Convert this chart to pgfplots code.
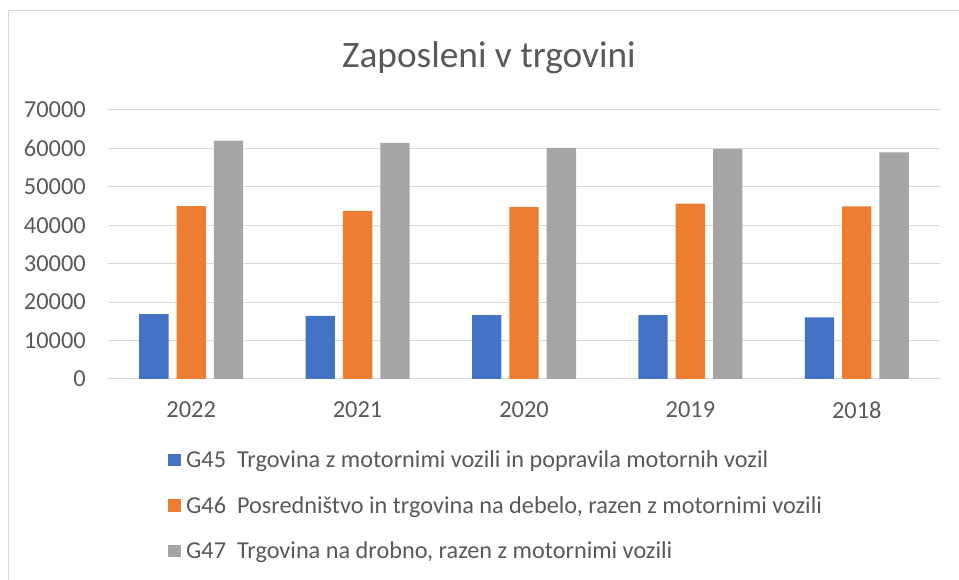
\documentclass[border=0pt]{standalone}
\usepackage{pgfplots}
\pgfplotsset{compat=1.18}
\usepackage{fontspec}
\setmainfont{Carlito}
\definecolor{cblue}{HTML}{4472C4}
\definecolor{corange}{HTML}{ED7D31}
\definecolor{cgray}{HTML}{A5A5A5}
\definecolor{ctext}{HTML}{595959}
\definecolor{cgrid}{HTML}{D9D9D9}
\begin{document}
\begin{tikzpicture}
\useasboundingbox (0,0) rectangle (719.25pt,435pt);
% chart border (only left and top visible)
\draw[cgrid, line width=0.75pt] (6.4pt,0pt) -- (6.4pt,426.75pt) -- (719.25pt,426.75pt);
\node[text=ctext, font=\fontsize{28}{33}\selectfont] at (366.75pt,391.5pt) {Zaposleni v trgovini};
\begin{axis}[
  at={(81pt,150.75pt)}, anchor=south west,
  scale only axis, width=624pt, height=201.75pt,
  ybar=6pt, bar width=22pt,
  xmin=-0.5, xmax=4.5,
  ymin=0, ymax=70000,
  xtick=data,
  xticklabels={2022,2021,2020,2019,2018},
  ytick={0,10000,...,70000},
  scaled y ticks=false,
  /pgf/number format/set thousands separator={},
  /pgf/number format/assume math mode=true,
  major tick length=0pt,
  ymajorgrids,
  grid style={cgrid, line width=0.75pt},
  axis x line*=bottom, axis y line*=left,
  x axis line style={cgrid, line width=0.75pt, -},
  y axis line style={draw=none},
  tick label style={text=ctext, font=\fontsize{18.3}{22}\selectfont},
  yticklabel style={inner sep=0pt, xshift=-16.5pt},
  xticklabel style={inner sep=0pt, yshift=-17pt},
  legend style={at={(0.072,-0.258)}, anchor=north west, draw=none,
    font=\fontsize{18.2}{22}\selectfont, text=ctext,
    row sep=17pt, inner sep=0pt,
    nodes={inner sep=1.5pt}},
  legend cell align=left,
  legend image code/.code={\fill[#1] (0pt,-4.75pt) rectangle (9.5pt,4.75pt);
    \path (12pt,0pt);},
]
\addplot[fill=cblue, draw=none] coordinates {(0,16900) (1,16400) (2,16650) (3,16650) (4,16050)};
\addplot[fill=corange, draw=none] coordinates {(0,45000) (1,43750) (2,44800) (3,45650) (4,44950)};
\addplot[fill=cgray, draw=none] coordinates {(0,62000) (1,61450) (2,60150) (3,59900) (4,58950)};
\legend{G45\ \ Trgovina z motornimi vozili in popravila motornih vozil,
G46\ \ Posredništvo in trgovina na debelo{,} razen z motornimi vozili,
G47\ \ Trgovina na drobno{,} razen z motornimi vozili}
\end{axis}
\end{tikzpicture}
\end{document}
